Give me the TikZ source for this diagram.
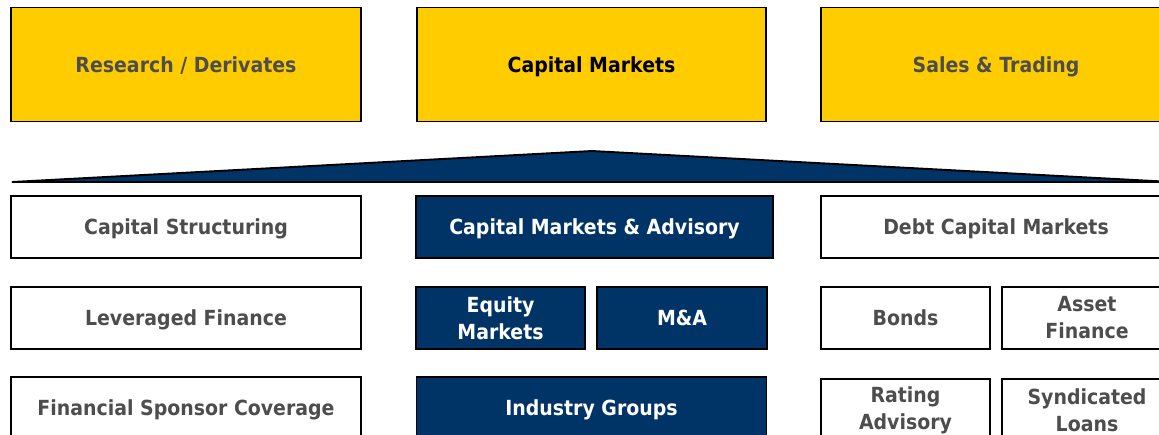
\documentclass[tikz,border=0pt]{standalone}
\usepackage{fontspec}
\newfontfamily\boxfont{DejaVu Sans}[FakeStretch=0.91]
\definecolor{cmyellow}{HTML}{FFCC00}
\definecolor{cmnavy}{HTML}{003366}
\definecolor{cmgray}{HTML}{4D4D4D}
\tikzset{
  unitbox/.style={rectangle, draw=black, line width=1.9pt, inner sep=0pt,
    align=center, font=\boxfont\bfseries\fontsize{20.8}{27}\selectfont},
  oneline/.style={text height=15pt, text depth=0pt},
  yellowbox/.style={unitbox, oneline, fill=cmyellow, text=cmgray},
  whitebox/.style={unitbox, fill=white, text=cmgray},
  navybox/.style={unitbox, fill=cmnavy, text=white}
}
\begin{document}
\begin{tikzpicture}[x=1pt,y=-1pt]
  \useasboundingbox (0,0) rectangle (1159,434);
  \clip (0,0) rectangle (1159,434);
  % top row
  \node[yellowbox, minimum width=350, minimum height=114] (research) at (186,64.5) {Research / Derivates};
  \node[yellowbox, minimum width=349, minimum height=114, text=black] (capmarkets) at (591.5,64.5) {Capital Markets};
  \node[yellowbox, minimum width=350, minimum height=114] (sales) at (996,64.5) {Sales \& Trading};
  % roof
  \draw[fill=cmnavy, line width=1.9pt, line join=miter] (12,182) -- (592,151) -- (1172,182) -- cycle;
  % second row
  \node[whitebox, oneline, minimum width=350, minimum height=62] (structuring) at (186,227) {Capital Structuring};
  \node[navybox, oneline, minimum width=357, minimum height=62] (advisory) at (594.5,227) {Capital Markets \& Advisory};
  \node[whitebox, oneline, minimum width=350, minimum height=62] (dcm) at (996,227) {Debt Capital Markets};
  % third row
  \node[whitebox, oneline, minimum width=350, minimum height=62] (levfin) at (186,318) {Leveraged Finance};
  \node[navybox, minimum width=169, minimum height=62] (equity) at (500.5,318) {Equity\\Markets};
  \node[navybox, oneline, minimum width=170, minimum height=62] (manda) at (682,318) {M\&A};
  \node[whitebox, oneline, minimum width=169, minimum height=62] (bonds) at (905.5,318) {Bonds};
  \node[whitebox, minimum width=170, minimum height=62] (asset) at (1087,318) {Asset\\Finance};
  % fourth row
  \node[whitebox, oneline, minimum width=350, minimum height=62] (sponsor) at (186,408) {Financial Sponsor Coverage};
  \node[navybox, oneline, minimum width=350, minimum height=62] (industry) at (591.5,408) {Industry Groups};
  \node[whitebox, minimum width=169, minimum height=62] (rating) at (905.5,410) {Rating\\Advisory};
  \node[whitebox, minimum width=170, minimum height=62] (syndicated) at (1087,410) {Syndicated\\Loans};
\end{tikzpicture}
\end{document}
